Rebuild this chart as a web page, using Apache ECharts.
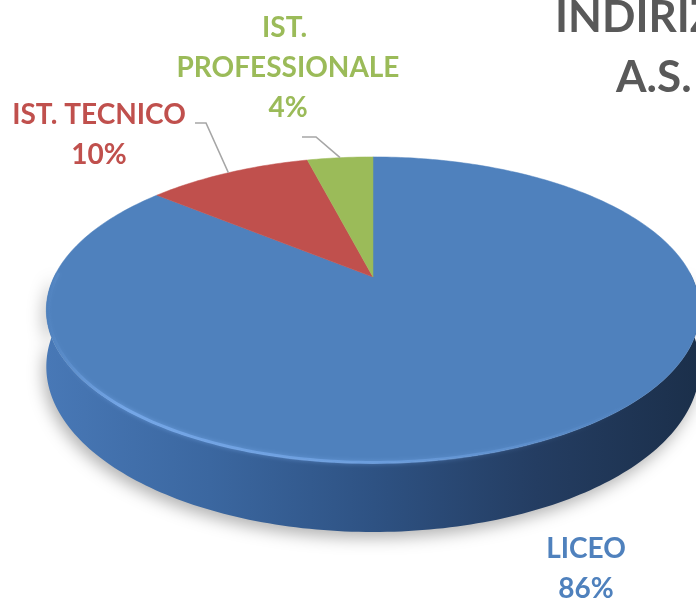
<!DOCTYPE html>
<html>
<head>
<meta charset="utf-8">
<script src="https://cdn.jsdelivr.net/npm/echarts@6/dist/echarts.min.js"></script>
<style>
  html, body { margin: 0; padding: 0; background: #fff; }
  #main { width: 696px; height: 602px; }
</style>
</head>
<body>
<div id="main"></div>
<script>
// data
var categories = ['LICEO', 'IST. TECNICO', 'IST. PROFESSIONALE'];
var values = [86, 10, 4];
var colors = ['#4F81BD', '#C0504D', '#9BBB59'];
var titleLines = ['INDIRIZZI', 'A.S.'];

// 3D disc geometry (simple perspective projection)
var cx = 373, cy = 277, A = 319, B = 146, K = 0.2157, T = 54;
var labelPos = [[586, 569], [99, 135], [288, 68]];
var labelWidth = [200, 210, 250];
var leaders = [null, [[195, 123], [206, 123]], [[302, 137], [316, 137]]];
var font = 'bold 28px Lato, "Open Sans", sans-serif';

function proj(deg, r) {
  var a = deg * Math.PI / 180;
  var u = Math.sin(a) * r, v = -Math.cos(a) * r;
  var w = 1 - K * v;
  return [cx + A * u / w, cy + B * v / w, w];
}

var total = values.reduce(function (s, v) { return s + v; }, 0);

var sideFill = new echarts.graphic.LinearGradient(0, 0, 1, 0, [
  { offset: 0, color: '#4878B6' },
  { offset: 0.25, color: '#3B67A0' },
  { offset: 0.5, color: '#2E5283' },
  { offset: 0.75, color: '#243D62' },
  { offset: 1, color: '#1B2F4A' }
]);
var rimFill = new echarts.graphic.LinearGradient(0, 0, 1, 0, [
  { offset: 0, color: 'rgba(120,170,235,0)' },
  { offset: 0.12, color: 'rgba(120,170,235,0.85)' },
  { offset: 0.5, color: 'rgba(120,170,235,0.6)' },
  { offset: 0.9, color: 'rgba(120,170,235,0)' }
]);

function renderSlice(params, api) {
  var i = params.dataIndex;
  var start = 0;
  for (var j = 0; j < i; j++) start += values[j];
  var a0 = start / total * 360;
  var a1 = (start + api.value(0)) / total * 360;
  var children = [];
  var d, p;

  // outer wall, front part only
  var s0 = Math.max(a0, 88), s1 = Math.min(a1, 272);
  if (s1 > s0) {
    var top = [], bot = [], rim = [];
    for (d = s0; d <= s1; d += 1) {
      p = proj(d, 1);
      top.push([p[0], p[1]]);
      bot.push([p[0], p[1] + T / p[2]]);
      var q = proj(d, 0.993);
      rim.push([q[0], q[1] + 1]);
    }
    children.push({
      type: 'polygon', z2: 1,
      shape: { points: top.concat(bot.reverse()) },
      style: { fill: sideFill, shadowBlur: 16, shadowColor: 'rgba(0,0,0,0.3)', shadowOffsetY: 6, shadowOffsetX: -3 }
    });
    children.push({
      type: 'polyline', z2: 12,
      shape: { points: rim },
      style: { stroke: rimFill, lineWidth: 3, fill: null, shadowBlur: 4, shadowColor: 'rgba(120,170,235,0.8)' }
    });
  }

  // top face
  var pts = [[cx, cy]];
  for (d = a0; d < a1; d += 1) {
    p = proj(d, 1);
    pts.push([p[0], p[1]]);
  }
  p = proj(a1, 1);
  pts.push([p[0], p[1]]);
  children.push({
    type: 'polygon', z2: 10,
    shape: { points: pts },
    style: { fill: colors[i], stroke: colors[i], lineWidth: 0.5 }
  });

  // leader line
  if (leaders[i]) {
    var m = proj((a0 + a1) / 2, 1);
    children.push({
      type: 'polyline', z2: 15,
      shape: { points: leaders[i].concat([[m[0], m[1]]]) },
      style: { stroke: '#A6A6A6', lineWidth: 1.6, fill: null }
    });
  }

  // label
  var pct = Math.round(api.value(0) / total * 100);
  children.push({
    type: 'text', z2: 20,
    x: labelPos[i][0], y: labelPos[i][1],
    style: {
      text: categories[i] + '\n' + pct + '%',
      width: labelWidth[i], overflow: 'break',
      align: 'center', verticalAlign: 'middle',
      fill: colors[i], font: font, lineHeight: 40
    }
  });

  return { type: 'group', children: children };
}

var myChart = echarts.init(document.getElementById('main'));
var option = {
  backgroundColor: '#fff',
  animation: false,
  title: [
    { text: titleLines[0], left: 555, top: -4, padding: 0,
      textStyle: { fontFamily: 'Lato', fontWeight: 'bold', fontSize: 44, color: '#595959' } },
    { text: titleLines[1], left: 616, top: 56, padding: 0,
      textStyle: { fontFamily: 'Lato', fontWeight: 'bold', fontSize: 44, color: '#595959' } }
  ],
  series: [
    {
      type: 'custom',
      coordinateSystem: 'none',
      silent: true,
      renderItem: renderSlice,
      data: values.map(function (v, i) { return { name: categories[i], value: v }; })
    }
  ]
};
myChart.setOption(option);
</script>
</body>
</html>
